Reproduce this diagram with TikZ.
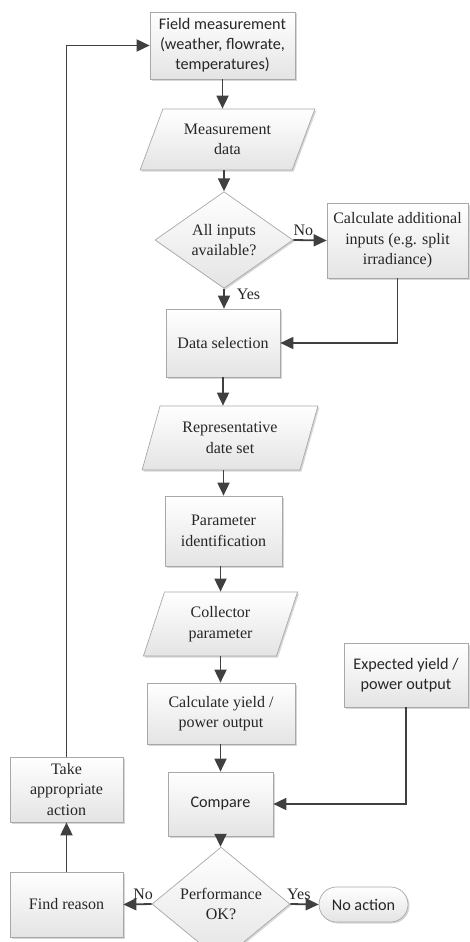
\documentclass[tikz,border=0pt]{standalone}
\usepackage{fontspec}
\setmainfont{Liberation Serif}
\newfontfamily\calib{Carlito}
\usetikzlibrary{shapes.geometric,shapes.misc,arrows.meta,shadows}
\definecolor{boxborder}{HTML}{A8A8A8}
\definecolor{boxfill}{HTML}{E4E4E4}
\definecolor{arrowc}{HTML}{404040}
\begin{document}
\begin{tikzpicture}[x=1pt,y=-1pt,
  base/.style={draw=boxborder, line width=0.7pt, top color=white, bottom color=boxfill,
    drop shadow={shadow xshift=1.5pt, shadow yshift=-1.5pt, fill=gray!70, opacity=0.45},
    align=center, inner sep=0pt, font=\fontsize{16}{20.5}\selectfont, text=black!85},
  box/.style={base, rectangle},
  sbox/.style={box, font=\calib\fontsize{16.2}{20}\selectfont},
  para/.style={base, trapezium, trapezium stretches=true},
  dec/.style={base, diamond},
  term/.style={base, rounded rectangle, font=\calib\fontsize{16.2}{20}\selectfont},
  arr/.style={draw=arrowc, line width=1.8pt, -{Triangle[length=13pt,width=12pt]}},
  lab/.style={font=\fontsize{16}{20}\selectfont, text=black!85, inner sep=1pt}]
\useasboundingbox (0,0) rectangle (469,942);

\node[sbox, minimum width=145pt, minimum height=67pt] (field) at (222.5,45.5)
  {Field measurement\\(weather, flowrate,\\temperatures)};
\node[para, trapezium left angle=63.8, trapezium right angle=116.2,
  minimum width=175pt, minimum height=61pt] (meas) at (227.5,139.5) {Measurement\\data};
\node[dec, minimum width=138pt, minimum height=84pt] (avail) at (224,240) {All inputs\\available?};
\node[box, minimum width=141pt, minimum height=75pt] (calc) at (397.5,240.5)
  {Calculate additional\\inputs (e.g. split\\irradiance)};
\node[box, minimum width=114pt, minimum height=68pt] (datasel) at (223,343) {Data selection};
\node[para, trapezium left angle=68.7, trapezium right angle=111.3,
  minimum width=176pt, minimum height=64pt] (repr) at (230,438) {Representative\\date set};
\node[box, minimum width=117pt, minimum height=70pt] (param) at (223.5,531) {Parameter\\identification};
\node[para, trapezium left angle=71, trapezium right angle=109,
  minimum width=155pt, minimum height=64pt] (coll) at (220.5,624) {Collector\\parameter};
\node[box, minimum width=148pt, minimum height=61pt] (cyield) at (221,713.5) {Calculate yield /\\power output};
\node[sbox, minimum width=124pt, minimum height=64pt] (expected) at (406,675) {Expected yield /\\power output};
\node[sbox, minimum width=105pt, minimum height=64pt] (compare) at (220.5,804) {Compare};
\node[dec, minimum width=138pt, minimum height=82pt] (perf) at (221,904) {Performance\\OK?};
\node[term, minimum width=89pt, minimum height=35pt] (noact) at (363.5,904.5) {No action};
\node[box, minimum width=113pt, minimum height=65pt] (reason) at (66.5,904.5) {Find reason};
\node[box, minimum width=113pt, minimum height=65pt] (take) at (66.5,789.5) {Take\\appropriate\\action};

\draw[arr] (field.south) -- (field.south |- meas.north);
\draw[arr] (meas.south -| avail.north) -- (avail.north);
\draw[arr] (avail.east) -- node[lab, above=3pt, pos=0.3] {No} (calc.west);
\draw[arr] (avail.south) -- node[lab, right=11pt, pos=0.3] {Yes} (avail.south |- datasel.north);
\draw[arr] (calc.south) |- (datasel.east);
\draw[arr] (datasel.south) -- (datasel.south |- repr.north);
\draw[arr] (repr.south -| param.north) -- (param.north);
\draw[arr] (param.south -| coll.north) -- (coll.north);
\draw[arr] (coll.south) -- (coll.south |- cyield.north);
\draw[arr] (cyield.south -| compare.north) -- (compare.north);
\draw[arr] (compare.south) -- (compare.south |- perf.north);
\draw[arr] (expected.south) |- (compare.east);
\draw[arr] (perf.east) -- node[lab, above=3pt, pos=0.3] {Yes} (noact.west);
\draw[arr] (perf.west) -- node[lab, above=3pt, pos=0.3] {No} (reason.east);
\draw[arr] (reason.north) -- (take.south);
\draw[arr] (take.north) |- (field.west);
\end{tikzpicture}
\end{document}
